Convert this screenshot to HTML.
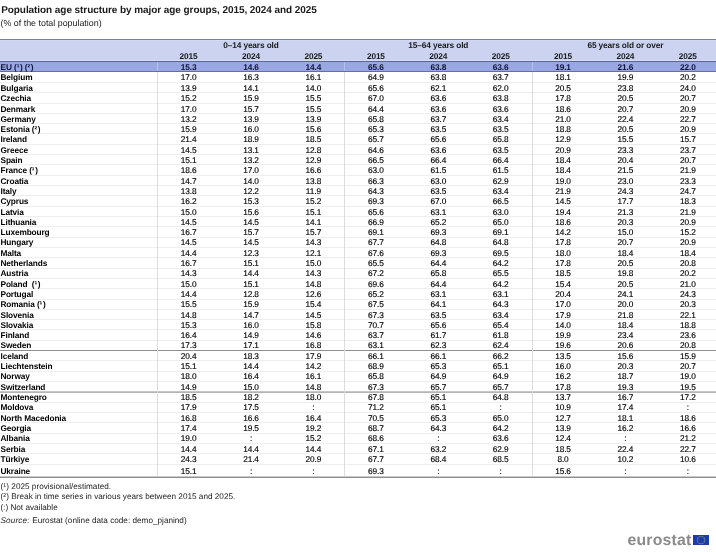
<!DOCTYPE html>
<html><head><meta charset="utf-8"><title>Population age structure</title>
<style>
html,body{margin:0;padding:0;background:#fff;}
body{width:716px;height:552px;position:relative;overflow:hidden;text-rendering:geometricPrecision;font-family:"Liberation Sans",Arial,sans-serif;color:#000;}
.a{position:absolute;white-space:nowrap;line-height:1;}
.t{font-weight:bold;}
.h{position:absolute;left:0;width:716px;}
.v{position:absolute;width:1px;}
.n{-webkit-text-stroke:0.15px currentColor;position:absolute;text-align:center;white-space:nowrap;line-height:1;font-size:8.3px;letter-spacing:-0.12px;}
.n.t{-webkit-text-stroke:0;}
.l{-webkit-text-stroke:0.0px currentColor;position:absolute;white-space:nowrap;line-height:1;font-size:8.3px;font-weight:bold;letter-spacing:-0.12px;}
</style></head><body>

<div class="a t" style="left:1.2px;top:6.00px;font-size:10px;color:#1a1a1a;letter-spacing:-0.07px">Population age structure by major age groups, 2015, 2024 and 2025</div>
<div class="a" style="left:0.5px;top:19.00px;font-size:8.9px;color:#222">(% of the total population)</div>
<div class="h" style="top:39.3px;height:22.1px;background:#cbd3f0"></div>
<div class="h" style="top:61.4px;height:10.000000000000007px;background:#9aa7e5"></div>
<div class="h" style="top:81.70px;height:1px;background:#eeeeee"></div>
<div class="h" style="top:92.00px;height:1px;background:#eeeeee"></div>
<div class="h" style="top:102.70px;height:1px;background:#eeeeee"></div>
<div class="h" style="top:113.00px;height:1px;background:#eeeeee"></div>
<div class="h" style="top:123.10px;height:1px;background:#eeeeee"></div>
<div class="h" style="top:133.30px;height:1px;background:#eeeeee"></div>
<div class="h" style="top:143.60px;height:1px;background:#eeeeee"></div>
<div class="h" style="top:154.10px;height:1px;background:#eeeeee"></div>
<div class="h" style="top:164.30px;height:1px;background:#eeeeee"></div>
<div class="h" style="top:174.80px;height:1px;background:#eeeeee"></div>
<div class="h" style="top:185.00px;height:1px;background:#eeeeee"></div>
<div class="h" style="top:195.40px;height:1px;background:#eeeeee"></div>
<div class="h" style="top:205.70px;height:1px;background:#eeeeee"></div>
<div class="h" style="top:216.00px;height:1px;background:#eeeeee"></div>
<div class="h" style="top:226.10px;height:1px;background:#eeeeee"></div>
<div class="h" style="top:236.70px;height:1px;background:#eeeeee"></div>
<div class="h" style="top:246.90px;height:1px;background:#eeeeee"></div>
<div class="h" style="top:257.20px;height:1px;background:#eeeeee"></div>
<div class="h" style="top:267.70px;height:1px;background:#eeeeee"></div>
<div class="h" style="top:277.90px;height:1px;background:#eeeeee"></div>
<div class="h" style="top:288.00px;height:1px;background:#eeeeee"></div>
<div class="h" style="top:298.80px;height:1px;background:#eeeeee"></div>
<div class="h" style="top:308.80px;height:1px;background:#eeeeee"></div>
<div class="h" style="top:319.20px;height:1px;background:#eeeeee"></div>
<div class="h" style="top:329.10px;height:1px;background:#eeeeee"></div>
<div class="h" style="top:339.80px;height:1px;background:#eeeeee"></div>
<div class="h" style="top:350px;height:1px;background:#8f8f8f"></div>
<div class="h" style="top:360.30px;height:1px;background:#eeeeee"></div>
<div class="h" style="top:370.85px;height:1px;background:#eeeeee"></div>
<div class="h" style="top:380.90px;height:1px;background:#eeeeee"></div>
<div class="h" style="top:391px;height:1px;background:#c6c6c6"></div><div class="h" style="top:392px;height:1px;background:#b4b4b4"></div>
<div class="h" style="top:401.80px;height:1px;background:#eeeeee"></div>
<div class="h" style="top:411.90px;height:1px;background:#eeeeee"></div>
<div class="h" style="top:422.30px;height:1px;background:#eeeeee"></div>
<div class="h" style="top:432.90px;height:1px;background:#eeeeee"></div>
<div class="h" style="top:442.90px;height:1px;background:#eeeeee"></div>
<div class="h" style="top:453.20px;height:1px;background:#eeeeee"></div>
<div class="h" style="top:463.80px;height:1px;background:#eeeeee"></div>
<div class="v" style="left:157.00px;top:61.4px;height:10.000000000000007px;background:#b3bdee"></div>
<div class="v" style="left:157.00px;top:71.4px;height:405.79999999999995px;background:#dddddd"></div>
<div class="v" style="left:344.00px;top:61.4px;height:10.000000000000007px;background:#b3bdee"></div>
<div class="v" style="left:344.00px;top:71.4px;height:405.79999999999995px;background:#dddddd"></div>
<div class="v" style="left:532.00px;top:61.4px;height:10.000000000000007px;background:#b3bdee"></div>
<div class="v" style="left:532.00px;top:71.4px;height:405.79999999999995px;background:#dddddd"></div>
<div class="h" style="top:39px;height:1px;background:#7b8099"></div>
<div class="h" style="top:61px;height:1px;background:#5a6593"></div>
<div class="h" style="top:71px;height:1px;background:#6a6f90"></div>
<div class="h" style="top:60px;height:1px;background:#d6ddf8"></div>
<div class="h" style="top:476px;height:1px;background:#cacaca"></div>
<div class="h" style="top:477px;height:1px;background:#8e8e8e"></div>
<div class="h" style="top:40px;height:1px;background:#d3daf6"></div>
<div class="n t" style="left:157.40px;width:187.20px;top:41.00px;color:#1a1a1a">0–14 years old</div>
<div class="n t" style="left:157.40px;width:62.40px;top:52.00px;color:#1a1a1a">2015</div>
<div class="n t" style="left:219.80px;width:62.40px;top:52.00px;color:#1a1a1a">2024</div>
<div class="n t" style="left:282.20px;width:62.40px;top:52.00px;color:#1a1a1a">2025</div>
<div class="n t" style="left:344.70px;width:187.20px;top:41.00px;color:#1a1a1a">15–64 years old</div>
<div class="n t" style="left:344.70px;width:62.40px;top:52.00px;color:#1a1a1a">2015</div>
<div class="n t" style="left:407.10px;width:62.40px;top:52.00px;color:#1a1a1a">2024</div>
<div class="n t" style="left:469.50px;width:62.40px;top:52.00px;color:#1a1a1a">2025</div>
<div class="n t" style="left:531.80px;width:187.20px;top:41.00px;color:#1a1a1a">65 years old or over</div>
<div class="n t" style="left:531.80px;width:62.40px;top:52.00px;color:#1a1a1a">2015</div>
<div class="n t" style="left:594.20px;width:62.40px;top:52.00px;color:#1a1a1a">2024</div>
<div class="n t" style="left:656.60px;width:62.40px;top:52.00px;color:#1a1a1a">2025</div>
<div class="l" style="left:0.5px;top:63.00px;color:#0f1335">EU (<span style="letter-spacing:0.6px">¹</span>) (<span style="letter-spacing:0.6px">²</span>)</div><div class="n t" style="left:157.40px;width:62.40px;top:63.00px;color:#0f1335">15.3</div><div class="n t" style="left:219.80px;width:62.40px;top:63.00px;color:#0f1335">14.6</div><div class="n t" style="left:282.20px;width:62.40px;top:63.00px;color:#0f1335">14.4</div><div class="n t" style="left:344.70px;width:62.40px;top:63.00px;color:#0f1335">65.6</div><div class="n t" style="left:407.10px;width:62.40px;top:63.00px;color:#0f1335">63.8</div><div class="n t" style="left:469.50px;width:62.40px;top:63.00px;color:#0f1335">63.6</div><div class="n t" style="left:531.80px;width:62.40px;top:63.00px;color:#0f1335">19.1</div><div class="n t" style="left:594.20px;width:62.40px;top:63.00px;color:#0f1335">21.6</div><div class="n t" style="left:656.60px;width:62.40px;top:63.00px;color:#0f1335">22.0</div>
<div class="l" style="left:0.5px;top:73.00px;color:#000">Belgium</div><div class="n" style="left:157.40px;width:62.40px;top:73.00px;color:#000">17.0</div><div class="n" style="left:219.80px;width:62.40px;top:73.00px;color:#000">16.3</div><div class="n" style="left:282.20px;width:62.40px;top:73.00px;color:#000">16.1</div><div class="n" style="left:344.70px;width:62.40px;top:73.00px;color:#000">64.9</div><div class="n" style="left:407.10px;width:62.40px;top:73.00px;color:#000">63.8</div><div class="n" style="left:469.50px;width:62.40px;top:73.00px;color:#000">63.7</div><div class="n" style="left:531.80px;width:62.40px;top:73.00px;color:#000">18.1</div><div class="n" style="left:594.20px;width:62.40px;top:73.00px;color:#000">19.9</div><div class="n" style="left:656.60px;width:62.40px;top:73.00px;color:#000">20.2</div>
<div class="l" style="left:0.5px;top:84.00px;color:#000">Bulgaria</div><div class="n" style="left:157.40px;width:62.40px;top:84.00px;color:#000">13.9</div><div class="n" style="left:219.80px;width:62.40px;top:84.00px;color:#000">14.1</div><div class="n" style="left:282.20px;width:62.40px;top:84.00px;color:#000">14.0</div><div class="n" style="left:344.70px;width:62.40px;top:84.00px;color:#000">65.6</div><div class="n" style="left:407.10px;width:62.40px;top:84.00px;color:#000">62.1</div><div class="n" style="left:469.50px;width:62.40px;top:84.00px;color:#000">62.0</div><div class="n" style="left:531.80px;width:62.40px;top:84.00px;color:#000">20.5</div><div class="n" style="left:594.20px;width:62.40px;top:84.00px;color:#000">23.8</div><div class="n" style="left:656.60px;width:62.40px;top:84.00px;color:#000">24.0</div>
<div class="l" style="left:0.5px;top:94.00px;color:#000">Czechia</div><div class="n" style="left:157.40px;width:62.40px;top:94.00px;color:#000">15.2</div><div class="n" style="left:219.80px;width:62.40px;top:94.00px;color:#000">15.9</div><div class="n" style="left:282.20px;width:62.40px;top:94.00px;color:#000">15.5</div><div class="n" style="left:344.70px;width:62.40px;top:94.00px;color:#000">67.0</div><div class="n" style="left:407.10px;width:62.40px;top:94.00px;color:#000">63.6</div><div class="n" style="left:469.50px;width:62.40px;top:94.00px;color:#000">63.8</div><div class="n" style="left:531.80px;width:62.40px;top:94.00px;color:#000">17.8</div><div class="n" style="left:594.20px;width:62.40px;top:94.00px;color:#000">20.5</div><div class="n" style="left:656.60px;width:62.40px;top:94.00px;color:#000">20.7</div>
<div class="l" style="left:0.5px;top:105.00px;color:#000">Denmark</div><div class="n" style="left:157.40px;width:62.40px;top:105.00px;color:#000">17.0</div><div class="n" style="left:219.80px;width:62.40px;top:105.00px;color:#000">15.7</div><div class="n" style="left:282.20px;width:62.40px;top:105.00px;color:#000">15.5</div><div class="n" style="left:344.70px;width:62.40px;top:105.00px;color:#000">64.4</div><div class="n" style="left:407.10px;width:62.40px;top:105.00px;color:#000">63.6</div><div class="n" style="left:469.50px;width:62.40px;top:105.00px;color:#000">63.6</div><div class="n" style="left:531.80px;width:62.40px;top:105.00px;color:#000">18.6</div><div class="n" style="left:594.20px;width:62.40px;top:105.00px;color:#000">20.7</div><div class="n" style="left:656.60px;width:62.40px;top:105.00px;color:#000">20.9</div>
<div class="l" style="left:0.5px;top:115.00px;color:#000">Germany</div><div class="n" style="left:157.40px;width:62.40px;top:115.00px;color:#000">13.2</div><div class="n" style="left:219.80px;width:62.40px;top:115.00px;color:#000">13.9</div><div class="n" style="left:282.20px;width:62.40px;top:115.00px;color:#000">13.9</div><div class="n" style="left:344.70px;width:62.40px;top:115.00px;color:#000">65.8</div><div class="n" style="left:407.10px;width:62.40px;top:115.00px;color:#000">63.7</div><div class="n" style="left:469.50px;width:62.40px;top:115.00px;color:#000">63.4</div><div class="n" style="left:531.80px;width:62.40px;top:115.00px;color:#000">21.0</div><div class="n" style="left:594.20px;width:62.40px;top:115.00px;color:#000">22.4</div><div class="n" style="left:656.60px;width:62.40px;top:115.00px;color:#000">22.7</div>
<div class="l" style="left:0.5px;top:125.00px;color:#000">Estonia (<span style="letter-spacing:0.6px">²</span>)</div><div class="n" style="left:157.40px;width:62.40px;top:125.00px;color:#000">15.9</div><div class="n" style="left:219.80px;width:62.40px;top:125.00px;color:#000">16.0</div><div class="n" style="left:282.20px;width:62.40px;top:125.00px;color:#000">15.6</div><div class="n" style="left:344.70px;width:62.40px;top:125.00px;color:#000">65.3</div><div class="n" style="left:407.10px;width:62.40px;top:125.00px;color:#000">63.5</div><div class="n" style="left:469.50px;width:62.40px;top:125.00px;color:#000">63.5</div><div class="n" style="left:531.80px;width:62.40px;top:125.00px;color:#000">18.8</div><div class="n" style="left:594.20px;width:62.40px;top:125.00px;color:#000">20.5</div><div class="n" style="left:656.60px;width:62.40px;top:125.00px;color:#000">20.9</div>
<div class="l" style="left:0.5px;top:135.00px;color:#000">Ireland</div><div class="n" style="left:157.40px;width:62.40px;top:135.00px;color:#000">21.4</div><div class="n" style="left:219.80px;width:62.40px;top:135.00px;color:#000">18.9</div><div class="n" style="left:282.20px;width:62.40px;top:135.00px;color:#000">18.5</div><div class="n" style="left:344.70px;width:62.40px;top:135.00px;color:#000">65.7</div><div class="n" style="left:407.10px;width:62.40px;top:135.00px;color:#000">65.6</div><div class="n" style="left:469.50px;width:62.40px;top:135.00px;color:#000">65.8</div><div class="n" style="left:531.80px;width:62.40px;top:135.00px;color:#000">12.9</div><div class="n" style="left:594.20px;width:62.40px;top:135.00px;color:#000">15.5</div><div class="n" style="left:656.60px;width:62.40px;top:135.00px;color:#000">15.7</div>
<div class="l" style="left:0.5px;top:146.00px;color:#000">Greece</div><div class="n" style="left:157.40px;width:62.40px;top:146.00px;color:#000">14.5</div><div class="n" style="left:219.80px;width:62.40px;top:146.00px;color:#000">13.1</div><div class="n" style="left:282.20px;width:62.40px;top:146.00px;color:#000">12.8</div><div class="n" style="left:344.70px;width:62.40px;top:146.00px;color:#000">64.6</div><div class="n" style="left:407.10px;width:62.40px;top:146.00px;color:#000">63.6</div><div class="n" style="left:469.50px;width:62.40px;top:146.00px;color:#000">63.5</div><div class="n" style="left:531.80px;width:62.40px;top:146.00px;color:#000">20.9</div><div class="n" style="left:594.20px;width:62.40px;top:146.00px;color:#000">23.3</div><div class="n" style="left:656.60px;width:62.40px;top:146.00px;color:#000">23.7</div>
<div class="l" style="left:0.5px;top:156.00px;color:#000">Spain</div><div class="n" style="left:157.40px;width:62.40px;top:156.00px;color:#000">15.1</div><div class="n" style="left:219.80px;width:62.40px;top:156.00px;color:#000">13.2</div><div class="n" style="left:282.20px;width:62.40px;top:156.00px;color:#000">12.9</div><div class="n" style="left:344.70px;width:62.40px;top:156.00px;color:#000">66.5</div><div class="n" style="left:407.10px;width:62.40px;top:156.00px;color:#000">66.4</div><div class="n" style="left:469.50px;width:62.40px;top:156.00px;color:#000">66.4</div><div class="n" style="left:531.80px;width:62.40px;top:156.00px;color:#000">18.4</div><div class="n" style="left:594.20px;width:62.40px;top:156.00px;color:#000">20.4</div><div class="n" style="left:656.60px;width:62.40px;top:156.00px;color:#000">20.7</div>
<div class="l" style="left:0.5px;top:166.00px;color:#000">France (<span style="letter-spacing:0.6px">¹</span>)</div><div class="n" style="left:157.40px;width:62.40px;top:166.00px;color:#000">18.6</div><div class="n" style="left:219.80px;width:62.40px;top:166.00px;color:#000">17.0</div><div class="n" style="left:282.20px;width:62.40px;top:166.00px;color:#000">16.6</div><div class="n" style="left:344.70px;width:62.40px;top:166.00px;color:#000">63.0</div><div class="n" style="left:407.10px;width:62.40px;top:166.00px;color:#000">61.5</div><div class="n" style="left:469.50px;width:62.40px;top:166.00px;color:#000">61.5</div><div class="n" style="left:531.80px;width:62.40px;top:166.00px;color:#000">18.4</div><div class="n" style="left:594.20px;width:62.40px;top:166.00px;color:#000">21.5</div><div class="n" style="left:656.60px;width:62.40px;top:166.00px;color:#000">21.9</div>
<div class="l" style="left:0.5px;top:177.00px;color:#000">Croatia</div><div class="n" style="left:157.40px;width:62.40px;top:177.00px;color:#000">14.7</div><div class="n" style="left:219.80px;width:62.40px;top:177.00px;color:#000">14.0</div><div class="n" style="left:282.20px;width:62.40px;top:177.00px;color:#000">13.8</div><div class="n" style="left:344.70px;width:62.40px;top:177.00px;color:#000">66.3</div><div class="n" style="left:407.10px;width:62.40px;top:177.00px;color:#000">63.0</div><div class="n" style="left:469.50px;width:62.40px;top:177.00px;color:#000">62.9</div><div class="n" style="left:531.80px;width:62.40px;top:177.00px;color:#000">19.0</div><div class="n" style="left:594.20px;width:62.40px;top:177.00px;color:#000">23.0</div><div class="n" style="left:656.60px;width:62.40px;top:177.00px;color:#000">23.3</div>
<div class="l" style="left:0.5px;top:187.00px;color:#000">Italy</div><div class="n" style="left:157.40px;width:62.40px;top:187.00px;color:#000">13.8</div><div class="n" style="left:219.80px;width:62.40px;top:187.00px;color:#000">12.2</div><div class="n" style="left:282.20px;width:62.40px;top:187.00px;color:#000">11.9</div><div class="n" style="left:344.70px;width:62.40px;top:187.00px;color:#000">64.3</div><div class="n" style="left:407.10px;width:62.40px;top:187.00px;color:#000">63.5</div><div class="n" style="left:469.50px;width:62.40px;top:187.00px;color:#000">63.4</div><div class="n" style="left:531.80px;width:62.40px;top:187.00px;color:#000">21.9</div><div class="n" style="left:594.20px;width:62.40px;top:187.00px;color:#000">24.3</div><div class="n" style="left:656.60px;width:62.40px;top:187.00px;color:#000">24.7</div>
<div class="l" style="left:0.5px;top:197.00px;color:#000">Cyprus</div><div class="n" style="left:157.40px;width:62.40px;top:197.00px;color:#000">16.2</div><div class="n" style="left:219.80px;width:62.40px;top:197.00px;color:#000">15.3</div><div class="n" style="left:282.20px;width:62.40px;top:197.00px;color:#000">15.2</div><div class="n" style="left:344.70px;width:62.40px;top:197.00px;color:#000">69.3</div><div class="n" style="left:407.10px;width:62.40px;top:197.00px;color:#000">67.0</div><div class="n" style="left:469.50px;width:62.40px;top:197.00px;color:#000">66.5</div><div class="n" style="left:531.80px;width:62.40px;top:197.00px;color:#000">14.5</div><div class="n" style="left:594.20px;width:62.40px;top:197.00px;color:#000">17.7</div><div class="n" style="left:656.60px;width:62.40px;top:197.00px;color:#000">18.3</div>
<div class="l" style="left:0.5px;top:208.00px;color:#000">Latvia</div><div class="n" style="left:157.40px;width:62.40px;top:208.00px;color:#000">15.0</div><div class="n" style="left:219.80px;width:62.40px;top:208.00px;color:#000">15.6</div><div class="n" style="left:282.20px;width:62.40px;top:208.00px;color:#000">15.1</div><div class="n" style="left:344.70px;width:62.40px;top:208.00px;color:#000">65.6</div><div class="n" style="left:407.10px;width:62.40px;top:208.00px;color:#000">63.1</div><div class="n" style="left:469.50px;width:62.40px;top:208.00px;color:#000">63.0</div><div class="n" style="left:531.80px;width:62.40px;top:208.00px;color:#000">19.4</div><div class="n" style="left:594.20px;width:62.40px;top:208.00px;color:#000">21.3</div><div class="n" style="left:656.60px;width:62.40px;top:208.00px;color:#000">21.9</div>
<div class="l" style="left:0.5px;top:218.00px;color:#000">Lithuania</div><div class="n" style="left:157.40px;width:62.40px;top:218.00px;color:#000">14.5</div><div class="n" style="left:219.80px;width:62.40px;top:218.00px;color:#000">14.5</div><div class="n" style="left:282.20px;width:62.40px;top:218.00px;color:#000">14.1</div><div class="n" style="left:344.70px;width:62.40px;top:218.00px;color:#000">66.9</div><div class="n" style="left:407.10px;width:62.40px;top:218.00px;color:#000">65.2</div><div class="n" style="left:469.50px;width:62.40px;top:218.00px;color:#000">65.0</div><div class="n" style="left:531.80px;width:62.40px;top:218.00px;color:#000">18.6</div><div class="n" style="left:594.20px;width:62.40px;top:218.00px;color:#000">20.3</div><div class="n" style="left:656.60px;width:62.40px;top:218.00px;color:#000">20.9</div>
<div class="l" style="left:0.5px;top:228.00px;color:#000">Luxembourg</div><div class="n" style="left:157.40px;width:62.40px;top:228.00px;color:#000">16.7</div><div class="n" style="left:219.80px;width:62.40px;top:228.00px;color:#000">15.7</div><div class="n" style="left:282.20px;width:62.40px;top:228.00px;color:#000">15.7</div><div class="n" style="left:344.70px;width:62.40px;top:228.00px;color:#000">69.1</div><div class="n" style="left:407.10px;width:62.40px;top:228.00px;color:#000">69.3</div><div class="n" style="left:469.50px;width:62.40px;top:228.00px;color:#000">69.1</div><div class="n" style="left:531.80px;width:62.40px;top:228.00px;color:#000">14.2</div><div class="n" style="left:594.20px;width:62.40px;top:228.00px;color:#000">15.0</div><div class="n" style="left:656.60px;width:62.40px;top:228.00px;color:#000">15.2</div>
<div class="l" style="left:0.5px;top:238.00px;color:#000">Hungary</div><div class="n" style="left:157.40px;width:62.40px;top:238.00px;color:#000">14.5</div><div class="n" style="left:219.80px;width:62.40px;top:238.00px;color:#000">14.5</div><div class="n" style="left:282.20px;width:62.40px;top:238.00px;color:#000">14.3</div><div class="n" style="left:344.70px;width:62.40px;top:238.00px;color:#000">67.7</div><div class="n" style="left:407.10px;width:62.40px;top:238.00px;color:#000">64.8</div><div class="n" style="left:469.50px;width:62.40px;top:238.00px;color:#000">64.8</div><div class="n" style="left:531.80px;width:62.40px;top:238.00px;color:#000">17.8</div><div class="n" style="left:594.20px;width:62.40px;top:238.00px;color:#000">20.7</div><div class="n" style="left:656.60px;width:62.40px;top:238.00px;color:#000">20.9</div>
<div class="l" style="left:0.5px;top:249.00px;color:#000">Malta</div><div class="n" style="left:157.40px;width:62.40px;top:249.00px;color:#000">14.4</div><div class="n" style="left:219.80px;width:62.40px;top:249.00px;color:#000">12.3</div><div class="n" style="left:282.20px;width:62.40px;top:249.00px;color:#000">12.1</div><div class="n" style="left:344.70px;width:62.40px;top:249.00px;color:#000">67.6</div><div class="n" style="left:407.10px;width:62.40px;top:249.00px;color:#000">69.3</div><div class="n" style="left:469.50px;width:62.40px;top:249.00px;color:#000">69.5</div><div class="n" style="left:531.80px;width:62.40px;top:249.00px;color:#000">18.0</div><div class="n" style="left:594.20px;width:62.40px;top:249.00px;color:#000">18.4</div><div class="n" style="left:656.60px;width:62.40px;top:249.00px;color:#000">18.4</div>
<div class="l" style="left:0.5px;top:259.00px;color:#000">Netherlands</div><div class="n" style="left:157.40px;width:62.40px;top:259.00px;color:#000">16.7</div><div class="n" style="left:219.80px;width:62.40px;top:259.00px;color:#000">15.1</div><div class="n" style="left:282.20px;width:62.40px;top:259.00px;color:#000">15.0</div><div class="n" style="left:344.70px;width:62.40px;top:259.00px;color:#000">65.5</div><div class="n" style="left:407.10px;width:62.40px;top:259.00px;color:#000">64.4</div><div class="n" style="left:469.50px;width:62.40px;top:259.00px;color:#000">64.2</div><div class="n" style="left:531.80px;width:62.40px;top:259.00px;color:#000">17.8</div><div class="n" style="left:594.20px;width:62.40px;top:259.00px;color:#000">20.5</div><div class="n" style="left:656.60px;width:62.40px;top:259.00px;color:#000">20.8</div>
<div class="l" style="left:0.5px;top:269.00px;color:#000">Austria</div><div class="n" style="left:157.40px;width:62.40px;top:269.00px;color:#000">14.3</div><div class="n" style="left:219.80px;width:62.40px;top:269.00px;color:#000">14.4</div><div class="n" style="left:282.20px;width:62.40px;top:269.00px;color:#000">14.3</div><div class="n" style="left:344.70px;width:62.40px;top:269.00px;color:#000">67.2</div><div class="n" style="left:407.10px;width:62.40px;top:269.00px;color:#000">65.8</div><div class="n" style="left:469.50px;width:62.40px;top:269.00px;color:#000">65.5</div><div class="n" style="left:531.80px;width:62.40px;top:269.00px;color:#000">18.5</div><div class="n" style="left:594.20px;width:62.40px;top:269.00px;color:#000">19.8</div><div class="n" style="left:656.60px;width:62.40px;top:269.00px;color:#000">20.2</div>
<div class="l" style="left:0.5px;top:280.00px;color:#000">Poland&nbsp; (<span style="letter-spacing:0.6px">¹</span>)</div><div class="n" style="left:157.40px;width:62.40px;top:280.00px;color:#000">15.0</div><div class="n" style="left:219.80px;width:62.40px;top:280.00px;color:#000">15.1</div><div class="n" style="left:282.20px;width:62.40px;top:280.00px;color:#000">14.8</div><div class="n" style="left:344.70px;width:62.40px;top:280.00px;color:#000">69.6</div><div class="n" style="left:407.10px;width:62.40px;top:280.00px;color:#000">64.4</div><div class="n" style="left:469.50px;width:62.40px;top:280.00px;color:#000">64.2</div><div class="n" style="left:531.80px;width:62.40px;top:280.00px;color:#000">15.4</div><div class="n" style="left:594.20px;width:62.40px;top:280.00px;color:#000">20.5</div><div class="n" style="left:656.60px;width:62.40px;top:280.00px;color:#000">21.0</div>
<div class="l" style="left:0.5px;top:290.00px;color:#000">Portugal</div><div class="n" style="left:157.40px;width:62.40px;top:290.00px;color:#000">14.4</div><div class="n" style="left:219.80px;width:62.40px;top:290.00px;color:#000">12.8</div><div class="n" style="left:282.20px;width:62.40px;top:290.00px;color:#000">12.6</div><div class="n" style="left:344.70px;width:62.40px;top:290.00px;color:#000">65.2</div><div class="n" style="left:407.10px;width:62.40px;top:290.00px;color:#000">63.1</div><div class="n" style="left:469.50px;width:62.40px;top:290.00px;color:#000">63.1</div><div class="n" style="left:531.80px;width:62.40px;top:290.00px;color:#000">20.4</div><div class="n" style="left:594.20px;width:62.40px;top:290.00px;color:#000">24.1</div><div class="n" style="left:656.60px;width:62.40px;top:290.00px;color:#000">24.3</div>
<div class="l" style="left:0.5px;top:300.00px;color:#000">Romania (<span style="letter-spacing:0.6px">¹</span>)</div><div class="n" style="left:157.40px;width:62.40px;top:300.00px;color:#000">15.5</div><div class="n" style="left:219.80px;width:62.40px;top:300.00px;color:#000">15.9</div><div class="n" style="left:282.20px;width:62.40px;top:300.00px;color:#000">15.4</div><div class="n" style="left:344.70px;width:62.40px;top:300.00px;color:#000">67.5</div><div class="n" style="left:407.10px;width:62.40px;top:300.00px;color:#000">64.1</div><div class="n" style="left:469.50px;width:62.40px;top:300.00px;color:#000">64.3</div><div class="n" style="left:531.80px;width:62.40px;top:300.00px;color:#000">17.0</div><div class="n" style="left:594.20px;width:62.40px;top:300.00px;color:#000">20.0</div><div class="n" style="left:656.60px;width:62.40px;top:300.00px;color:#000">20.3</div>
<div class="l" style="left:0.5px;top:311.00px;color:#000">Slovenia</div><div class="n" style="left:157.40px;width:62.40px;top:311.00px;color:#000">14.8</div><div class="n" style="left:219.80px;width:62.40px;top:311.00px;color:#000">14.7</div><div class="n" style="left:282.20px;width:62.40px;top:311.00px;color:#000">14.5</div><div class="n" style="left:344.70px;width:62.40px;top:311.00px;color:#000">67.3</div><div class="n" style="left:407.10px;width:62.40px;top:311.00px;color:#000">63.5</div><div class="n" style="left:469.50px;width:62.40px;top:311.00px;color:#000">63.4</div><div class="n" style="left:531.80px;width:62.40px;top:311.00px;color:#000">17.9</div><div class="n" style="left:594.20px;width:62.40px;top:311.00px;color:#000">21.8</div><div class="n" style="left:656.60px;width:62.40px;top:311.00px;color:#000">22.1</div>
<div class="l" style="left:0.5px;top:321.00px;color:#000">Slovakia</div><div class="n" style="left:157.40px;width:62.40px;top:321.00px;color:#000">15.3</div><div class="n" style="left:219.80px;width:62.40px;top:321.00px;color:#000">16.0</div><div class="n" style="left:282.20px;width:62.40px;top:321.00px;color:#000">15.8</div><div class="n" style="left:344.70px;width:62.40px;top:321.00px;color:#000">70.7</div><div class="n" style="left:407.10px;width:62.40px;top:321.00px;color:#000">65.6</div><div class="n" style="left:469.50px;width:62.40px;top:321.00px;color:#000">65.4</div><div class="n" style="left:531.80px;width:62.40px;top:321.00px;color:#000">14.0</div><div class="n" style="left:594.20px;width:62.40px;top:321.00px;color:#000">18.4</div><div class="n" style="left:656.60px;width:62.40px;top:321.00px;color:#000">18.8</div>
<div class="l" style="left:0.5px;top:331.00px;color:#000">Finland</div><div class="n" style="left:157.40px;width:62.40px;top:331.00px;color:#000">16.4</div><div class="n" style="left:219.80px;width:62.40px;top:331.00px;color:#000">14.9</div><div class="n" style="left:282.20px;width:62.40px;top:331.00px;color:#000">14.6</div><div class="n" style="left:344.70px;width:62.40px;top:331.00px;color:#000">63.7</div><div class="n" style="left:407.10px;width:62.40px;top:331.00px;color:#000">61.7</div><div class="n" style="left:469.50px;width:62.40px;top:331.00px;color:#000">61.8</div><div class="n" style="left:531.80px;width:62.40px;top:331.00px;color:#000">19.9</div><div class="n" style="left:594.20px;width:62.40px;top:331.00px;color:#000">23.4</div><div class="n" style="left:656.60px;width:62.40px;top:331.00px;color:#000">23.6</div>
<div class="l" style="left:0.5px;top:341.00px;color:#000">Sweden</div><div class="n" style="left:157.40px;width:62.40px;top:341.00px;color:#000">17.3</div><div class="n" style="left:219.80px;width:62.40px;top:341.00px;color:#000">17.1</div><div class="n" style="left:282.20px;width:62.40px;top:341.00px;color:#000">16.8</div><div class="n" style="left:344.70px;width:62.40px;top:341.00px;color:#000">63.1</div><div class="n" style="left:407.10px;width:62.40px;top:341.00px;color:#000">62.3</div><div class="n" style="left:469.50px;width:62.40px;top:341.00px;color:#000">62.4</div><div class="n" style="left:531.80px;width:62.40px;top:341.00px;color:#000">19.6</div><div class="n" style="left:594.20px;width:62.40px;top:341.00px;color:#000">20.6</div><div class="n" style="left:656.60px;width:62.40px;top:341.00px;color:#000">20.8</div>
<div class="l" style="left:0.5px;top:352.00px;color:#000">Iceland</div><div class="n" style="left:157.40px;width:62.40px;top:352.00px;color:#000">20.4</div><div class="n" style="left:219.80px;width:62.40px;top:352.00px;color:#000">18.3</div><div class="n" style="left:282.20px;width:62.40px;top:352.00px;color:#000">17.9</div><div class="n" style="left:344.70px;width:62.40px;top:352.00px;color:#000">66.1</div><div class="n" style="left:407.10px;width:62.40px;top:352.00px;color:#000">66.1</div><div class="n" style="left:469.50px;width:62.40px;top:352.00px;color:#000">66.2</div><div class="n" style="left:531.80px;width:62.40px;top:352.00px;color:#000">13.5</div><div class="n" style="left:594.20px;width:62.40px;top:352.00px;color:#000">15.6</div><div class="n" style="left:656.60px;width:62.40px;top:352.00px;color:#000">15.9</div>
<div class="l" style="left:0.5px;top:362.00px;color:#000">Liechtenstein</div><div class="n" style="left:157.40px;width:62.40px;top:362.00px;color:#000">15.1</div><div class="n" style="left:219.80px;width:62.40px;top:362.00px;color:#000">14.4</div><div class="n" style="left:282.20px;width:62.40px;top:362.00px;color:#000">14.2</div><div class="n" style="left:344.70px;width:62.40px;top:362.00px;color:#000">68.9</div><div class="n" style="left:407.10px;width:62.40px;top:362.00px;color:#000">65.3</div><div class="n" style="left:469.50px;width:62.40px;top:362.00px;color:#000">65.1</div><div class="n" style="left:531.80px;width:62.40px;top:362.00px;color:#000">16.0</div><div class="n" style="left:594.20px;width:62.40px;top:362.00px;color:#000">20.3</div><div class="n" style="left:656.60px;width:62.40px;top:362.00px;color:#000">20.7</div>
<div class="l" style="left:0.5px;top:372.00px;color:#000">Norway</div><div class="n" style="left:157.40px;width:62.40px;top:372.00px;color:#000">18.0</div><div class="n" style="left:219.80px;width:62.40px;top:372.00px;color:#000">16.4</div><div class="n" style="left:282.20px;width:62.40px;top:372.00px;color:#000">16.1</div><div class="n" style="left:344.70px;width:62.40px;top:372.00px;color:#000">65.8</div><div class="n" style="left:407.10px;width:62.40px;top:372.00px;color:#000">64.9</div><div class="n" style="left:469.50px;width:62.40px;top:372.00px;color:#000">64.9</div><div class="n" style="left:531.80px;width:62.40px;top:372.00px;color:#000">16.2</div><div class="n" style="left:594.20px;width:62.40px;top:372.00px;color:#000">18.7</div><div class="n" style="left:656.60px;width:62.40px;top:372.00px;color:#000">19.0</div>
<div class="l" style="left:0.5px;top:383.00px;color:#000">Switzerland</div><div class="n" style="left:157.40px;width:62.40px;top:383.00px;color:#000">14.9</div><div class="n" style="left:219.80px;width:62.40px;top:383.00px;color:#000">15.0</div><div class="n" style="left:282.20px;width:62.40px;top:383.00px;color:#000">14.8</div><div class="n" style="left:344.70px;width:62.40px;top:383.00px;color:#000">67.3</div><div class="n" style="left:407.10px;width:62.40px;top:383.00px;color:#000">65.7</div><div class="n" style="left:469.50px;width:62.40px;top:383.00px;color:#000">65.7</div><div class="n" style="left:531.80px;width:62.40px;top:383.00px;color:#000">17.8</div><div class="n" style="left:594.20px;width:62.40px;top:383.00px;color:#000">19.3</div><div class="n" style="left:656.60px;width:62.40px;top:383.00px;color:#000">19.5</div>
<div class="l" style="left:0.5px;top:393.00px;color:#000">Montenegro</div><div class="n" style="left:157.40px;width:62.40px;top:393.00px;color:#000">18.5</div><div class="n" style="left:219.80px;width:62.40px;top:393.00px;color:#000">18.2</div><div class="n" style="left:282.20px;width:62.40px;top:393.00px;color:#000">18.0</div><div class="n" style="left:344.70px;width:62.40px;top:393.00px;color:#000">67.8</div><div class="n" style="left:407.10px;width:62.40px;top:393.00px;color:#000">65.1</div><div class="n" style="left:469.50px;width:62.40px;top:393.00px;color:#000">64.8</div><div class="n" style="left:531.80px;width:62.40px;top:393.00px;color:#000">13.7</div><div class="n" style="left:594.20px;width:62.40px;top:393.00px;color:#000">16.7</div><div class="n" style="left:656.60px;width:62.40px;top:393.00px;color:#000">17.2</div>
<div class="l" style="left:0.5px;top:403.00px;color:#000">Moldova</div><div class="n" style="left:157.40px;width:62.40px;top:403.00px;color:#000">17.9</div><div class="n" style="left:219.80px;width:62.40px;top:403.00px;color:#000">17.5</div><div class="n" style="left:282.20px;width:62.40px;top:403.00px;color:#000">:</div><div class="n" style="left:344.70px;width:62.40px;top:403.00px;color:#000">71.2</div><div class="n" style="left:407.10px;width:62.40px;top:403.00px;color:#000">65.1</div><div class="n" style="left:469.50px;width:62.40px;top:403.00px;color:#000">:</div><div class="n" style="left:531.80px;width:62.40px;top:403.00px;color:#000">10.9</div><div class="n" style="left:594.20px;width:62.40px;top:403.00px;color:#000">17.4</div><div class="n" style="left:656.60px;width:62.40px;top:403.00px;color:#000">:</div>
<div class="l" style="left:0.5px;top:414.00px;color:#000">North Macedonia</div><div class="n" style="left:157.40px;width:62.40px;top:414.00px;color:#000">16.8</div><div class="n" style="left:219.80px;width:62.40px;top:414.00px;color:#000">16.6</div><div class="n" style="left:282.20px;width:62.40px;top:414.00px;color:#000">16.4</div><div class="n" style="left:344.70px;width:62.40px;top:414.00px;color:#000">70.5</div><div class="n" style="left:407.10px;width:62.40px;top:414.00px;color:#000">65.3</div><div class="n" style="left:469.50px;width:62.40px;top:414.00px;color:#000">65.0</div><div class="n" style="left:531.80px;width:62.40px;top:414.00px;color:#000">12.7</div><div class="n" style="left:594.20px;width:62.40px;top:414.00px;color:#000">18.1</div><div class="n" style="left:656.60px;width:62.40px;top:414.00px;color:#000">18.6</div>
<div class="l" style="left:0.5px;top:424.00px;color:#000">Georgia</div><div class="n" style="left:157.40px;width:62.40px;top:424.00px;color:#000">17.4</div><div class="n" style="left:219.80px;width:62.40px;top:424.00px;color:#000">19.5</div><div class="n" style="left:282.20px;width:62.40px;top:424.00px;color:#000">19.2</div><div class="n" style="left:344.70px;width:62.40px;top:424.00px;color:#000">68.7</div><div class="n" style="left:407.10px;width:62.40px;top:424.00px;color:#000">64.3</div><div class="n" style="left:469.50px;width:62.40px;top:424.00px;color:#000">64.2</div><div class="n" style="left:531.80px;width:62.40px;top:424.00px;color:#000">13.9</div><div class="n" style="left:594.20px;width:62.40px;top:424.00px;color:#000">16.2</div><div class="n" style="left:656.60px;width:62.40px;top:424.00px;color:#000">16.6</div>
<div class="l" style="left:0.5px;top:434.00px;color:#000">Albania</div><div class="n" style="left:157.40px;width:62.40px;top:434.00px;color:#000">19.0</div><div class="n" style="left:219.80px;width:62.40px;top:434.00px;color:#000">:</div><div class="n" style="left:282.20px;width:62.40px;top:434.00px;color:#000">15.2</div><div class="n" style="left:344.70px;width:62.40px;top:434.00px;color:#000">68.6</div><div class="n" style="left:407.10px;width:62.40px;top:434.00px;color:#000">:</div><div class="n" style="left:469.50px;width:62.40px;top:434.00px;color:#000">63.6</div><div class="n" style="left:531.80px;width:62.40px;top:434.00px;color:#000">12.4</div><div class="n" style="left:594.20px;width:62.40px;top:434.00px;color:#000">:</div><div class="n" style="left:656.60px;width:62.40px;top:434.00px;color:#000">21.2</div>
<div class="l" style="left:0.5px;top:445.00px;color:#000">Serbia</div><div class="n" style="left:157.40px;width:62.40px;top:445.00px;color:#000">14.4</div><div class="n" style="left:219.80px;width:62.40px;top:445.00px;color:#000">14.4</div><div class="n" style="left:282.20px;width:62.40px;top:445.00px;color:#000">14.4</div><div class="n" style="left:344.70px;width:62.40px;top:445.00px;color:#000">67.1</div><div class="n" style="left:407.10px;width:62.40px;top:445.00px;color:#000">63.2</div><div class="n" style="left:469.50px;width:62.40px;top:445.00px;color:#000">62.9</div><div class="n" style="left:531.80px;width:62.40px;top:445.00px;color:#000">18.5</div><div class="n" style="left:594.20px;width:62.40px;top:445.00px;color:#000">22.4</div><div class="n" style="left:656.60px;width:62.40px;top:445.00px;color:#000">22.7</div>
<div class="l" style="left:0.5px;top:455.00px;color:#000">Türkiye</div><div class="n" style="left:157.40px;width:62.40px;top:455.00px;color:#000">24.3</div><div class="n" style="left:219.80px;width:62.40px;top:455.00px;color:#000">21.4</div><div class="n" style="left:282.20px;width:62.40px;top:455.00px;color:#000">20.9</div><div class="n" style="left:344.70px;width:62.40px;top:455.00px;color:#000">67.7</div><div class="n" style="left:407.10px;width:62.40px;top:455.00px;color:#000">68.4</div><div class="n" style="left:469.50px;width:62.40px;top:455.00px;color:#000">68.5</div><div class="n" style="left:531.80px;width:62.40px;top:455.00px;color:#000">8.0</div><div class="n" style="left:594.20px;width:62.40px;top:455.00px;color:#000">10.2</div><div class="n" style="left:656.60px;width:62.40px;top:455.00px;color:#000">10.6</div>
<div class="l" style="left:0.5px;top:467.00px;color:#000">Ukraine</div><div class="n" style="left:157.40px;width:62.40px;top:467.00px;color:#000">15.1</div><div class="n" style="left:219.80px;width:62.40px;top:467.00px;color:#000">:</div><div class="n" style="left:282.20px;width:62.40px;top:467.00px;color:#000">:</div><div class="n" style="left:344.70px;width:62.40px;top:467.00px;color:#000">69.3</div><div class="n" style="left:407.10px;width:62.40px;top:467.00px;color:#000">:</div><div class="n" style="left:469.50px;width:62.40px;top:467.00px;color:#000">:</div><div class="n" style="left:531.80px;width:62.40px;top:467.00px;color:#000">15.6</div><div class="n" style="left:594.20px;width:62.40px;top:467.00px;color:#000">:</div><div class="n" style="left:656.60px;width:62.40px;top:467.00px;color:#000">:</div>
<div class="a" style="left:0.4px;top:483.00px;font-size:8.2px;color:#222">(<span style="letter-spacing:0.5px">¹</span>) 2025 provisional/estimated.</div>
<div class="a" style="left:0.4px;top:493.00px;font-size:8.2px;color:#222">(<span style="letter-spacing:0.5px">²</span>) Break in time series in various years between 2015 and 2025.</div>
<div class="a" style="left:0.4px;top:504.00px;font-size:8.2px;color:#222">(:) Not available</div>
<div class="a" style="left:0.4px;top:517.00px;font-size:8.2px;color:#222"><i style="letter-spacing:0.15px">Source:</i><span style="margin-left:0.4px"> </span>Eurostat (online data code: demo_pjanind)</div>
<div class="a t" style="left:627.5px;top:533.00px;font-size:15.8px;color:#8a8a8a;letter-spacing:0.2px">eurostat</div>
<svg style="position:absolute;left:693px;top:535px" width="16" height="10" viewBox="0 0 16 10"><rect width="16" height="10" fill="#1c3ba6"/><circle cx="11.70" cy="5.00" r="0.55" fill="#b8b48a"/><circle cx="11.20" cy="6.85" r="0.55" fill="#b8b48a"/><circle cx="9.85" cy="8.20" r="0.55" fill="#b8b48a"/><circle cx="8.00" cy="8.70" r="0.55" fill="#b8b48a"/><circle cx="6.15" cy="8.20" r="0.55" fill="#b8b48a"/><circle cx="4.80" cy="6.85" r="0.55" fill="#b8b48a"/><circle cx="4.30" cy="5.00" r="0.55" fill="#b8b48a"/><circle cx="4.80" cy="3.15" r="0.55" fill="#b8b48a"/><circle cx="6.15" cy="1.80" r="0.55" fill="#b8b48a"/><circle cx="8.00" cy="1.30" r="0.55" fill="#b8b48a"/><circle cx="9.85" cy="1.80" r="0.55" fill="#b8b48a"/><circle cx="11.20" cy="3.15" r="0.55" fill="#b8b48a"/></svg>
</body></html>
